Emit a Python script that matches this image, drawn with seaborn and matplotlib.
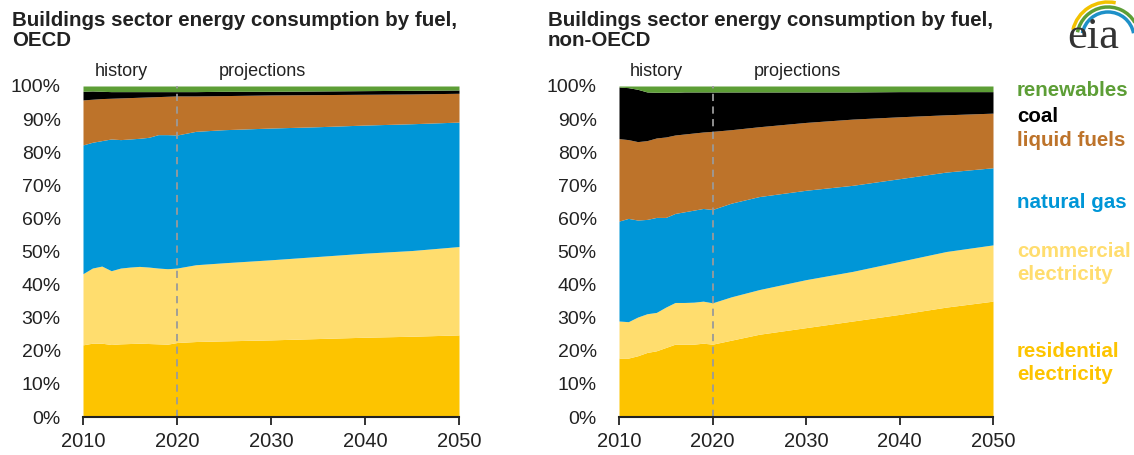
import numpy as np
import matplotlib
matplotlib.use("Agg")
import matplotlib.pyplot as plt
from matplotlib.patches import Arc
import seaborn as sns

years = [2010, 2011, 2012, 2013, 2014, 2015, 2016, 2017, 2018, 2019, 2020,
         2022, 2025, 2030, 2035, 2040, 2045, 2050]

fuels = ["residential electricity", "commercial electricity", "natural gas",
         "liquid fuels", "coal", "renewables"]

# shares of buildings energy consumption (%), OECD
oecd_res = [21.8, 22.3, 22.3, 21.9, 22.1, 22.2, 22.3, 22.2, 22.1, 22.0, 22.5, 22.8, 23.0, 23.3, 23.7, 24.1, 24.4, 24.8]
oecd_com = [21.5, 22.7, 23.3, 22.3, 22.9, 23.1, 23.2, 23.1, 22.9, 22.8, 22.5, 23.2, 23.6, 24.2, 24.8, 25.4, 25.9, 26.7]
oecd_gas = [38.9, 38.0, 37.9, 39.8, 38.8, 38.7, 38.7, 39.2, 40.3, 40.5, 40.2, 40.3, 40.2, 39.8, 39.2, 38.7, 38.3, 37.6]
oecd_liq = [13.6, 13.0, 12.7, 12.3, 12.6, 12.5, 12.4, 12.2, 11.5, 11.6, 11.8, 10.7, 10.3, 10.0, 9.7, 9.3, 9.0, 8.7]
oecd_coal = [2.6, 2.5, 2.2, 2.0, 1.9, 1.8, 1.7, 1.6, 1.5, 1.4, 1.3, 1.3, 1.3, 1.1, 1.1, 1.1, 1.1, 1.0]
oecd_ren = [1.6, 1.5, 1.6, 1.7, 1.7, 1.7, 1.7, 1.7, 1.7, 1.7, 1.7, 1.7, 1.6, 1.6, 1.5, 1.4, 1.3, 1.2]

# shares of buildings energy consumption (%), non-OECD
non_res = [17.8, 17.8, 18.5, 19.5, 20.0, 21.0, 22.0, 22.0, 22.0, 22.3, 22.0, 23.2, 25.0, 27.0, 29.0, 31.0, 33.2, 35.0]
non_com = [11.2, 11.0, 11.7, 11.7, 11.6, 12.2, 12.6, 12.6, 12.7, 12.7, 12.5, 13.1, 13.5, 14.5, 15.0, 16.0, 16.8, 17.0]
non_gas = [30.2, 31.2, 29.3, 28.5, 28.7, 27.1, 26.9, 27.4, 27.8, 28.0, 28.2, 28.3, 28.1, 27.0, 26.0, 25.0, 24.0, 23.3]
non_liq = [24.9, 23.8, 23.7, 23.8, 24.0, 24.3, 23.7, 23.5, 23.3, 23.1, 23.6, 22.2, 21.1, 20.5, 20.0, 18.7, 17.3, 16.5]
non_coal = [15.6, 15.7, 15.8, 14.7, 13.8, 13.5, 12.9, 12.7, 12.4, 12.1, 11.9, 11.4, 10.5, 9.2, 8.2, 7.6, 7.0, 6.5]
non_ren = [0.3, 0.5, 1.0, 1.8, 1.9, 1.9, 1.9, 1.8, 1.8, 1.8, 1.8, 1.8, 1.8, 1.8, 1.8, 1.7, 1.7, 1.7]

colors = ["#FDC400", "#FFDD6E", "#0096D7", "#BD732A", "#000000", "#5D9E36"]

sns.set_theme(style="white")
plt.rcParams["font.family"] = ["Liberation Sans", "DejaVu Sans"]

fig = plt.figure(figsize=(11.34, 4.55), dpi=100)
ax1 = fig.add_axes([83 / 1134, 38 / 455, 376 / 1134, 331 / 455])
ax2 = fig.add_axes([619 / 1134, 38 / 455, 374 / 1134, 331 / 455])

panels = [
    (ax1, [oecd_res, oecd_com, oecd_gas, oecd_liq, oecd_coal, oecd_ren], "OECD"),
    (ax2, [non_res, non_com, non_gas, non_liq, non_coal, non_ren], "non-OECD"),
]

for ax, series, region in panels:
    ax.stackplot(years, *series, colors=colors, linewidth=0)
    ax.axvline(2020, color="#9a9a9a", linestyle=(0, (4, 3)), linewidth=1.3)
    ax.set_xlim(2010, 2050)
    ax.set_ylim(0, 100)
    ax.set_xticks(range(2010, 2051, 10))
    ax.set_yticks(range(0, 101, 10))
    ax.set_yticklabels([f"{v}%" for v in range(0, 101, 10)])
    sns.despine(ax=ax, left=True)
    ax.spines["bottom"].set_color("#222222")
    ax.spines["bottom"].set_linewidth(1.5)
    ax.tick_params(axis="x", direction="out", length=6, width=1.3, color="#222222",
                   labelsize=14.5, pad=5, bottom=True)
    ax.tick_params(axis="y", length=0, labelsize=14, pad=16)
    for lab in ax.get_xticklabels() + ax.get_yticklabels():
        lab.set_color("#222222")
    ax.text(0.03, 1.045, "history", transform=ax.transAxes, fontsize=13,
            color="#222222", va="center")
    ax.text(0.36, 1.045, "projections", transform=ax.transAxes, fontsize=13,
            color="#222222", va="center")

for xpix, region in [(12, "OECD"), (548, "non-OECD")]:
    fig.text(xpix / 1134, 1 - 11 / 455,
             "Buildings sector energy consumption by fuel,\n" + region,
             fontsize=14.8, fontweight="bold", color="#222222", va="top", ha="left",
             linespacing=1.05)

legend_items = [
    ("renewables", 91, "#5D9E36"),
    ("coal", 116, "#000000"),
    ("liquid fuels", 141, "#BD732A"),
    ("natural gas", 203, "#0096D7"),
    ("commercial\nelectricity", 263, "#FFDD6E"),
    ("residential\nelectricity", 363, "#FDC400"),
]
for label, ypix, col in legend_items:
    fig.text(1017 / 1134, 1 - ypix / 455, label, fontsize=14.8, fontweight="bold",
             color=col, va="center", ha="left", linespacing=1.3)

# eia logo
fig.text(1093 / 1134, 1 - 48 / 455, "eia", fontsize=32, color="#333333",
         family=["Liberation Serif", "DejaVu Serif"], ha="center", va="baseline")
for r, col, th1, th2 in [(36, "#F2C200", 85, 150), (31, "#5D9E36", 55, 155), (26, "#1E90C8", 25, 155)]:
    arc = Arc((1108 / 1134, 1 - 38 / 455), 2 * r / 1134, 2 * r / 455,
              theta1=th1, theta2=th2, color=col, lw=2.5, transform=fig.transFigure)
    fig.add_artist(arc)

fig.savefig("out.png", dpi=100)
